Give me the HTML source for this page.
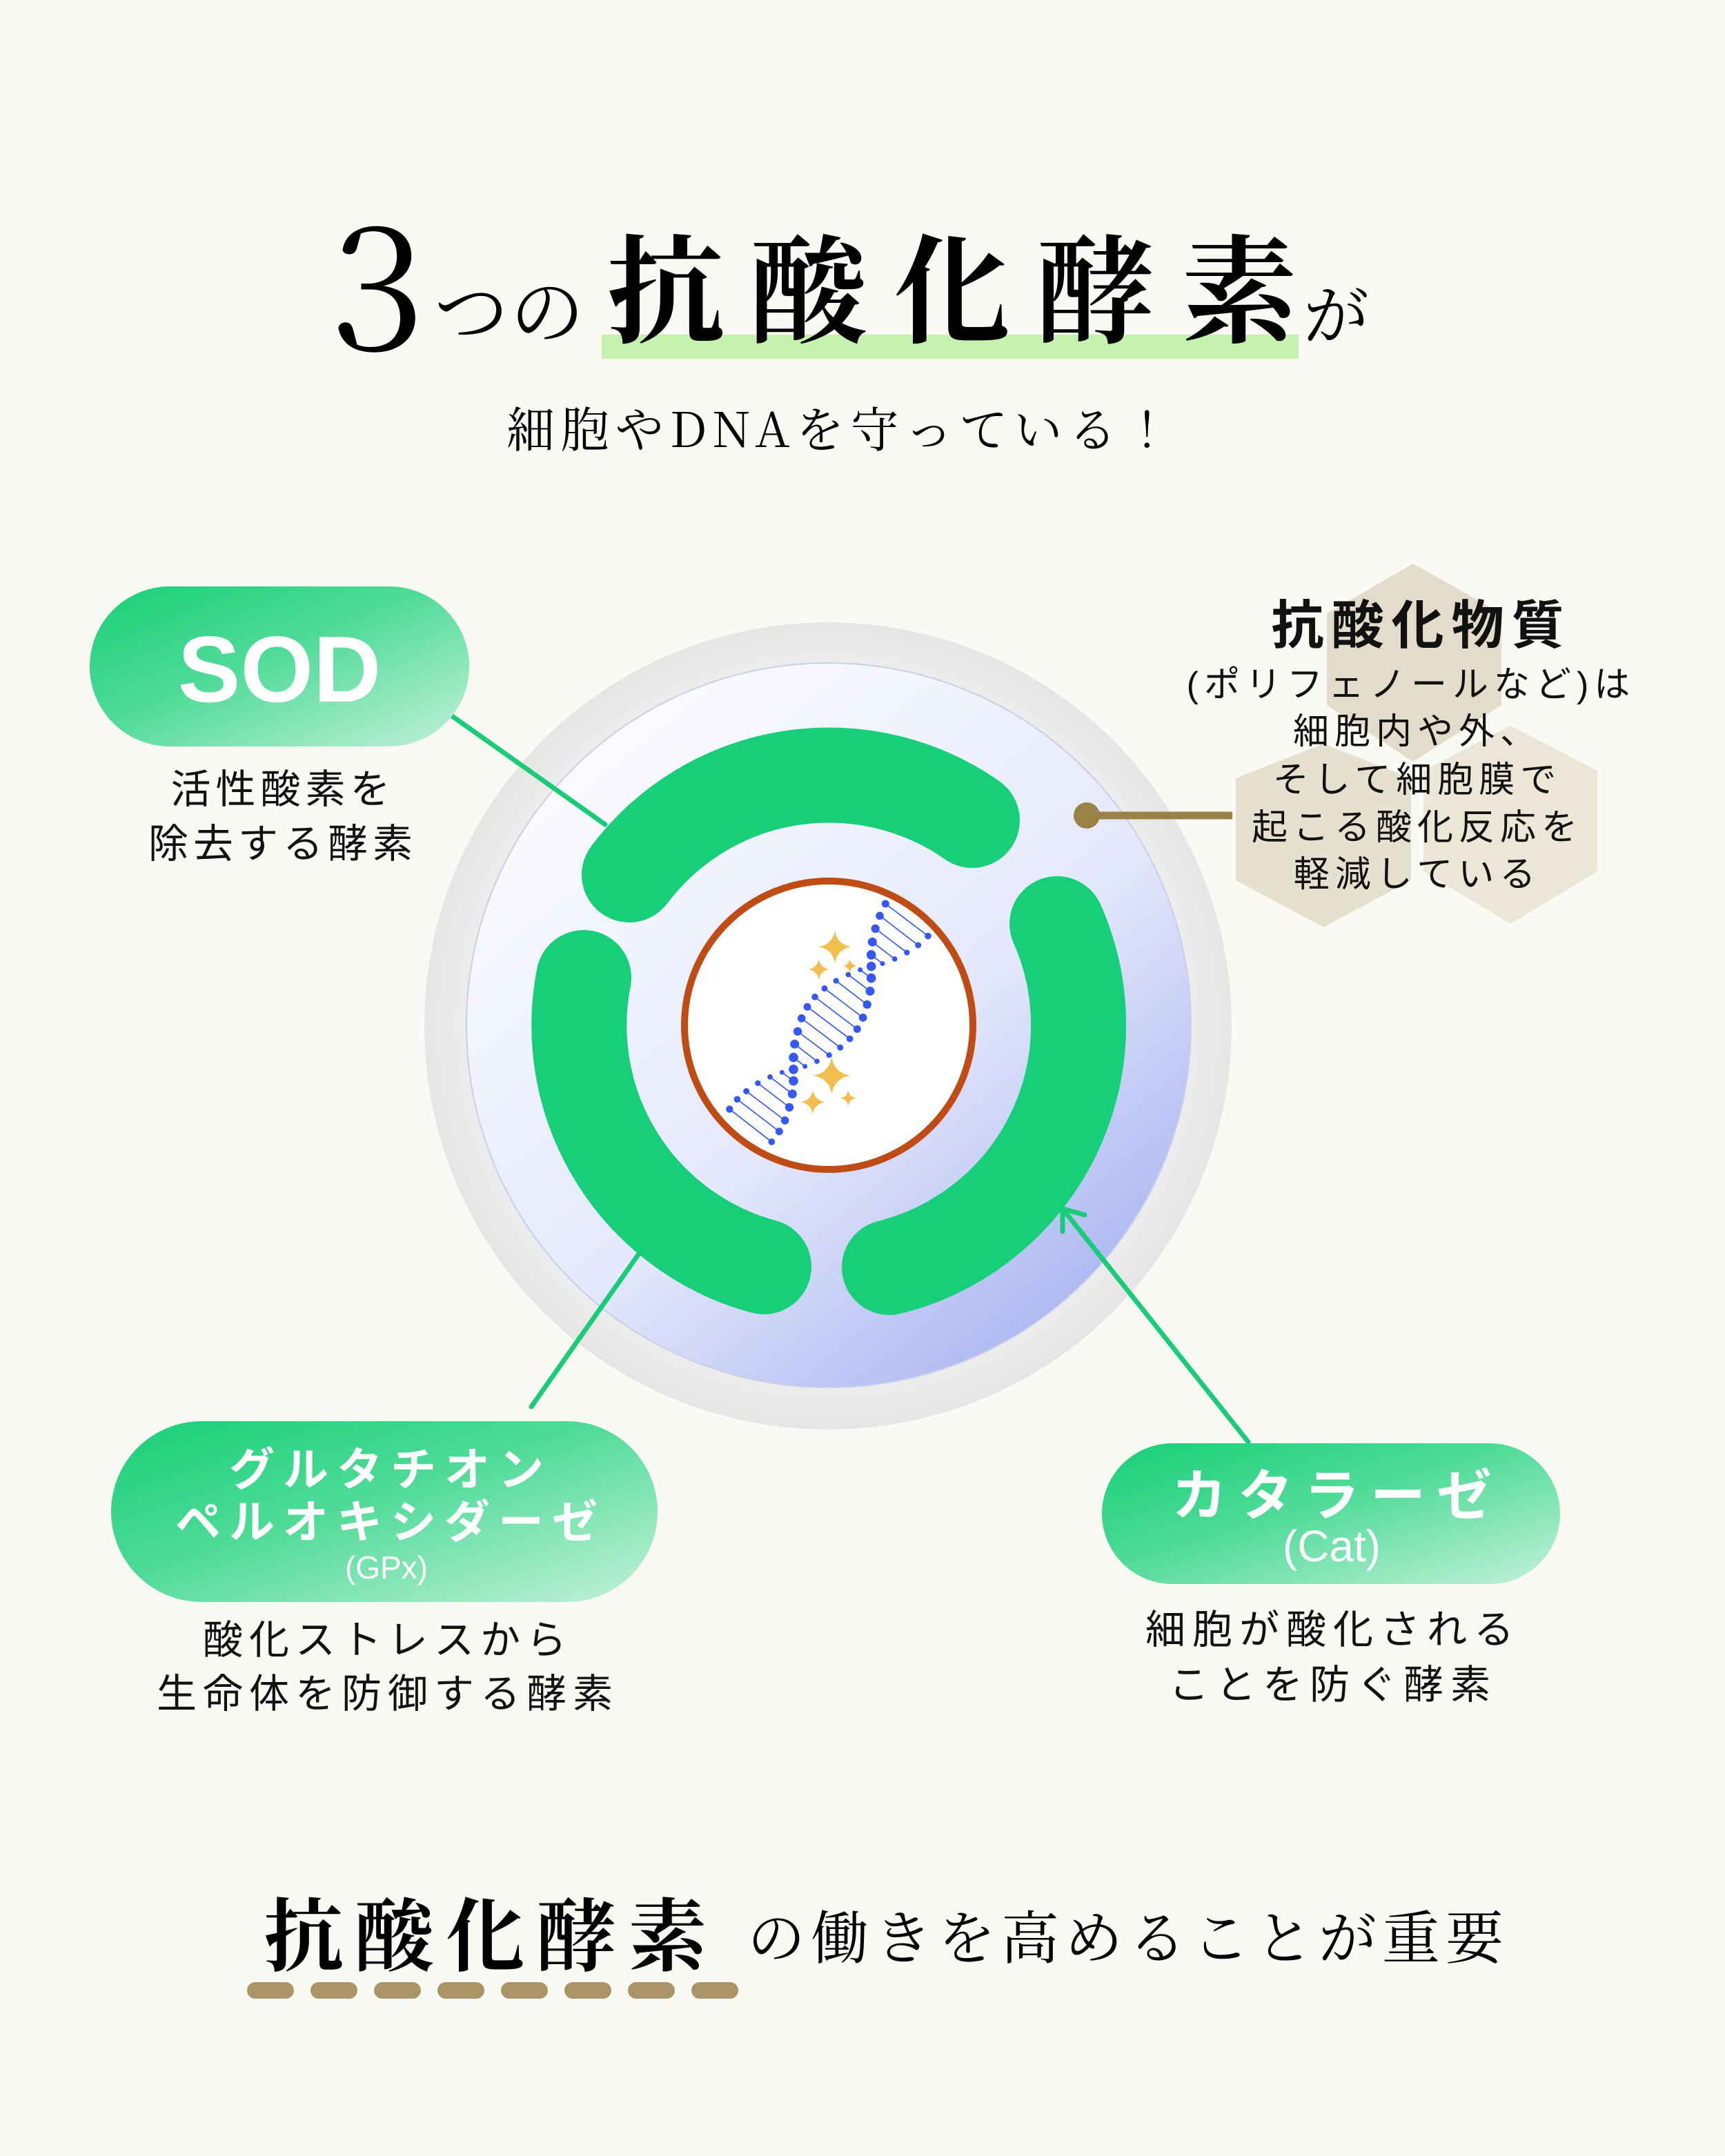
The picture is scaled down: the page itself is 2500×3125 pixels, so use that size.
<!DOCTYPE html>
<html><head><meta charset="utf-8"><style>
html,body{margin:0;padding:0;background:#faf9f4;}
svg{display:block;}
</style></head><body>
<svg width="2500" height="3125" viewBox="0 0 2500 3125" xmlns="http://www.w3.org/2000/svg">
<defs>
<linearGradient id="pill" x1="0" y1="0" x2="1" y2="1">
<stop offset="0" stop-color="#18cf77"/><stop offset="0.45" stop-color="#4fdb97"/><stop offset="1" stop-color="#c4f1d9"/>
</linearGradient>
<radialGradient id="halo" cx="0.5" cy="0.5" r="0.5">
<stop offset="0.85" stop-color="#f0f0f0"/><stop offset="1" stop-color="#e5e5e5"/>
</radialGradient>
<linearGradient id="cell" x1="0.2" y1="0.12" x2="0.85" y2="0.92">
<stop offset="0" stop-color="#f9faff"/><stop offset="0.55" stop-color="#e4e8fb"/><stop offset="1" stop-color="#a9b5f1"/>
</linearGradient>
</defs>
<rect width="2500" height="3125" fill="#faf9f4"/>

<!-- Title -->
<rect x="872" y="485" width="1010" height="35" fill="#c6f2b0"/>
<text x="478" y="507" font-size="250" fill="#000" font-family="Noto Serif CJK JP, serif">3</text>
<text x="629" y="491" font-size="108" letter-spacing="2" fill="#000" font-family="Noto Serif CJK JP, serif">つの</text>
<text x="879" y="483" font-size="170" letter-spacing="38" font-weight="700" fill="#000" font-family="Noto Serif CJK JP, serif">抗酸化酵素</text>
<text x="1889" y="491" font-size="95" fill="#000" font-family="Noto Serif CJK JP, serif">が</text>
<text x="1220" y="648" font-size="70" letter-spacing="9" text-anchor="middle" fill="#000" font-family="Noto Serif CJK JP, serif">細胞やDNAを守っている！</text>

<!-- hexagons -->
<polygon points="2048,817 2176,889 2176,1022 2048,1104 1923,1022 1923,889" fill="#e3dcca"/>
<polygon points="1918,1078 2045,1128 2045,1276 1918,1344 1791,1276 1791,1128" fill="#e6e0cf"/>
<polygon points="2189,1052 2315,1117 2315,1263 2189,1339 2063,1263 2063,1117" fill="#ebe6d6"/>

<!-- cell -->
<circle cx="1200" cy="1487" r="585" fill="url(#halo)"/>
<circle cx="1201" cy="1486" r="525" fill="url(#cell)" stroke="#c9cfea" stroke-width="2"/>
<g fill="none" stroke="#16cf78" stroke-width="138" stroke-linecap="round">
<path d="M912,1268 A362,362 0 0 1 1409,1189"/>
<path d="M1107,1836 A362,362 0 0 1 846,1417"/>
<path d="M1532,1339 A362,362 0 0 1 1289,1837"/>
</g>
<circle cx="1201" cy="1486" r="209" fill="#fff" stroke="#bf4c14" stroke-width="10"/>

<!-- DNA -->
<g transform="translate(980,1260) scale(0.33333)">
<g stroke="#3558f5" stroke-width="5" fill="#3558f5">
<line x1="910" y1="150" x2="1095" y2="290"/><circle cx="910" cy="150" r="14"/><circle cx="1095" cy="290" r="12"/>
<line x1="885" y1="202" x2="1052" y2="330"/><circle cx="885" cy="202" r="15"/><circle cx="1052" cy="330" r="11"/>
<line x1="866" y1="258" x2="1003" y2="362"/><circle cx="866" cy="258" r="16"/><circle cx="1003" cy="362" r="10"/>
<line x1="853" y1="316" x2="950" y2="390"/><circle cx="853" cy="316" r="17"/><circle cx="950" cy="390" r="9"/>
<line x1="848" y1="372" x2="897" y2="410"/><circle cx="848" cy="372" r="18"/><circle cx="897" cy="410" r="8"/>
<circle cx="848" cy="422" r="18"/>
<line x1="848" y1="473" x2="800" y2="437"/><circle cx="848" cy="473" r="18"/><circle cx="800" cy="437" r="8"/>
<line x1="843" y1="530" x2="748" y2="458"/><circle cx="843" cy="530" r="17"/><circle cx="748" cy="458" r="9"/>
<line x1="830" y1="588" x2="695" y2="485"/><circle cx="830" cy="588" r="16"/><circle cx="695" cy="485" r="10"/>
<line x1="812" y1="645" x2="645" y2="518"/><circle cx="812" cy="645" r="15"/><circle cx="645" cy="518" r="11"/>
<line x1="787" y1="695" x2="603" y2="555"/><circle cx="787" cy="695" r="14"/><circle cx="603" cy="555" r="12"/>
<line x1="755" y1="737" x2="570" y2="598"/><circle cx="755" cy="737" r="12"/><circle cx="570" cy="598" r="14"/>
<line x1="713" y1="775" x2="545" y2="648"/><circle cx="713" cy="775" r="11"/><circle cx="545" cy="648" r="15"/>
<line x1="665" y1="808" x2="528" y2="705"/><circle cx="665" cy="808" r="10"/><circle cx="528" cy="705" r="16"/>
<line x1="612" y1="835" x2="515" y2="760"/><circle cx="612" cy="835" r="9"/><circle cx="515" cy="760" r="17"/>
<line x1="560" y1="857" x2="510" y2="818"/><circle cx="560" cy="857" r="8"/><circle cx="510" cy="818" r="18"/>
<circle cx="510" cy="870" r="18"/>
<line x1="510" y1="920" x2="460" y2="883"/><circle cx="510" cy="920" r="18"/><circle cx="460" cy="883" r="8"/>
<line x1="505" y1="977" x2="408" y2="903"/><circle cx="505" cy="977" r="17"/><circle cx="408" cy="903" r="9"/>
<line x1="492" y1="1035" x2="355" y2="930"/><circle cx="492" cy="1035" r="16"/><circle cx="355" cy="930" r="10"/>
<line x1="473" y1="1092" x2="305" y2="965"/><circle cx="473" cy="1092" r="15"/><circle cx="305" cy="965" r="11"/>
<line x1="448" y1="1140" x2="265" y2="1000"/><circle cx="448" cy="1140" r="14"/><circle cx="265" cy="1000" r="12"/>
<line x1="415" y1="1185" x2="232" y2="1043"/><circle cx="415" cy="1185" r="12"/><circle cx="232" cy="1043" r="13"/>
</g>
<g fill="#f2bf4e">
<path d="M690,267 Q700.5,326.5 760,337 Q700.5,347.5 690,407 Q679.5,347.5 620,337 Q679.5,326.5 690,267Z"/>
<path d="M620,390 Q627,428 665,435 Q627,442 620,480 Q613,442 575,435 Q613,428 620,390Z"/>
<path d="M755,390 Q760,415 785,420 Q760,425 755,450 Q750,425 725,420 Q750,415 755,390Z"/>
<path d="M676,817 Q688,885 756,897 Q688,909 676,977 Q664,909 596,897 Q664,885 676,817Z"/>
<path d="M594,960 Q602,1004 646,1012 Q602,1020 594,1064 Q586,1020 542,1012 Q586,1004 594,960Z"/>
<path d="M748,960 Q753,990 783,995 Q753,1000 748,1030 Q743,1000 713,995 Q743,990 748,960Z"/>
</g>
</g>

<!-- connectors -->
<g stroke="#18cc78" stroke-width="7" fill="none" stroke-linecap="round">
<line x1="654" y1="1037" x2="877" y2="1195"/>
<line x1="770" y1="2039" x2="931" y2="1810"/>
<line x1="1809" y1="2090" x2="1540" y2="1752"/>
<polyline points="1540,1785 1540,1752 1572,1761"/>
</g>
<line x1="1575" y1="1182" x2="1786" y2="1182" stroke="#9a8246" stroke-width="11"/>
<circle cx="1575" cy="1182" r="19" fill="#9a8246"/>

<!-- SOD -->
<rect x="130" y="850" width="550" height="232" rx="116" fill="url(#pill)"/>
<text x="405" y="1017" font-size="136" font-weight="bold" text-anchor="middle" fill="#fff" font-family="Liberation Sans, sans-serif">SOD</text>
<g font-family="Liberation Sans, Noto Sans CJK JP, sans-serif" fill="#111" text-anchor="middle">
<text x="410" y="1164" font-size="58" letter-spacing="7">活性酸素を</text>
<text x="410" y="1243" font-size="58" letter-spacing="7">除去する酵素</text>
</g>

<!-- GPx -->
<rect x="161" y="2060" width="792" height="262" rx="131" fill="url(#pill)"/>
<g fill="#fff" text-anchor="middle" font-family="Liberation Sans, Noto Sans CJK JP, sans-serif">
<text x="566" y="2153" font-size="66" font-weight="bold" letter-spacing="12">グルタチオン</text>
<text x="566" y="2229" font-size="66" font-weight="bold" letter-spacing="12">ペルオキシダーゼ</text>
<text x="560" y="2288" font-size="46">(GPx)</text>
</g>
<g font-family="Liberation Sans, Noto Sans CJK JP, sans-serif" fill="#111" text-anchor="middle">
<text x="562" y="2397" font-size="58" letter-spacing="9">酸化ストレスから</text>
<text x="562" y="2475" font-size="58" letter-spacing="9">生命体を防御する酵素</text>
</g>

<!-- Cat -->
<rect x="1597" y="2092" width="664" height="204" rx="102" fill="url(#pill)"/>
<g fill="#fff" text-anchor="middle" font-family="Liberation Sans, Noto Sans CJK JP, sans-serif">
<text x="1938" y="2196" font-size="80" font-weight="bold" letter-spacing="16">カタラーゼ</text>
<text x="1930" y="2263" font-size="64">(Cat)</text>
</g>
<g font-family="Liberation Sans, Noto Sans CJK JP, sans-serif" fill="#111" text-anchor="middle">
<text x="1932" y="2382" font-size="58" letter-spacing="10">細胞が酸化される</text>
<text x="1932" y="2462" font-size="58" letter-spacing="10">ことを防ぐ酵素</text>
</g>

<!-- right text -->
<g font-family="Liberation Sans, Noto Sans CJK JP, sans-serif" fill="#111" text-anchor="middle">
<text x="2060" y="933" font-size="76" font-weight="bold" letter-spacing="11">抗酸化物質</text>
<text x="2045" y="1010" font-size="52" letter-spacing="8">(ポリフェノールなど)は</text>
<text x="2054" y="1078" font-size="52" letter-spacing="8">細胞内や外、</text>
<text x="2054" y="1148" font-size="52" letter-spacing="8">そして細胞膜で</text>
<text x="2054" y="1217" font-size="52" letter-spacing="8">起こる酸化反応を</text>
<text x="2054" y="1285" font-size="52" letter-spacing="8">軽減している</text>
</g>

<!-- bottom -->
<text x="382" y="2847" font-size="115" font-weight="700" letter-spacing="17" fill="#000" font-family="Noto Serif CJK JP, serif">抗酸化酵素</text>
<text x="1083" y="2839" font-size="84" letter-spacing="8" fill="#000" font-family="Noto Serif CJK JP, serif">の働きを高めることが重要</text>
<g fill="#ab9466">
<rect x="358" y="2873" width="68" height="24" rx="12"/>
<rect x="450" y="2873" width="68" height="24" rx="12"/>
<rect x="542" y="2873" width="68" height="24" rx="12"/>
<rect x="634" y="2873" width="68" height="24" rx="12"/>
<rect x="726" y="2873" width="68" height="24" rx="12"/>
<rect x="818" y="2873" width="68" height="24" rx="12"/>
<rect x="910" y="2873" width="68" height="24" rx="12"/>
<rect x="1002" y="2873" width="68" height="24" rx="12"/>
</g>
</svg>
</body></html>
